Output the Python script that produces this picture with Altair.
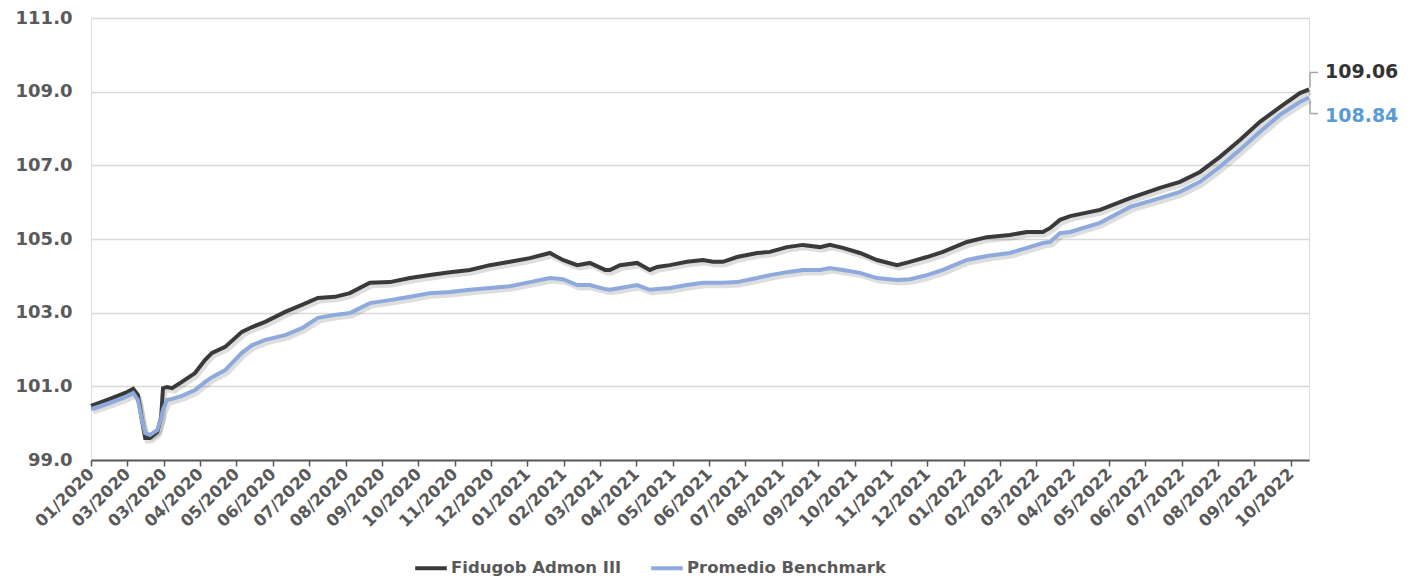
import altair as alt
import pandas as pd

LABELS = ["01/2020", "03/2020", "03/2020", "04/2020", "05/2020", "06/2020", "07/2020",
          "08/2020", "09/2020", "10/2020", "11/2020", "12/2020",
          "01/2021", "02/2021", "03/2021", "04/2021", "05/2021", "06/2021", "07/2021",
          "08/2021", "09/2021", "10/2021", "11/2021", "12/2021",
          "01/2022", "02/2022", "03/2022", "04/2022", "05/2022", "06/2022", "07/2022",
          "08/2022", "09/2022", "10/2022"]

# position along the axis, in label periods
T = [0, 0.52, 0.94, 1.16, 1.29, 1.40, 1.49, 1.62, 1.82, 1.93, 1.98, 2.09, 2.23, 2.50,
     2.86, 3.14, 3.33, 3.69, 4.15, 4.43, 4.79, 5.34, 5.80, 6.24, 6.71, 7.12, 7.67, 8.22,
     8.77, 9.32, 9.87, 10.42, 10.97, 11.52, 12.07, 12.62, 12.98, 13.37, 13.72, 14.14,
     14.27, 14.55, 15.02, 15.37, 15.57, 15.92, 16.39, 16.83, 17.11, 17.38, 17.77, 18.32,
     18.67, 19.14, 19.58, 20.05, 20.32, 20.68, 21.15, 21.62, 22.17, 22.52, 22.99, 23.43,
     24.09, 24.64, 25.27, 25.74, 26.18, 26.38, 26.65, 26.93, 27.75, 28.58, 29.40, 29.95,
     30.50, 31.05, 31.60, 32.15, 32.70, 33.25, 33.50]

FID = [100.47, 100.66, 100.82, 100.93, 100.76, 100.09, 99.60, 99.60, 99.76, 100.17,
       100.95, 100.98, 100.95, 101.12, 101.36, 101.72, 101.91, 102.07, 102.48, 102.61,
       102.75, 103.02, 103.21, 103.40, 103.43, 103.53, 103.81, 103.83, 103.94, 104.02,
       104.10, 104.16, 104.29, 104.38, 104.48, 104.62, 104.43, 104.29, 104.35, 104.16,
       104.16, 104.29, 104.35, 104.16, 104.24, 104.29, 104.38, 104.43, 104.38, 104.38,
       104.51, 104.62, 104.65, 104.78, 104.84, 104.78, 104.84, 104.76, 104.62, 104.43,
       104.29, 104.38, 104.51, 104.65, 104.92, 105.05, 105.11, 105.19, 105.19, 105.30,
       105.52, 105.62, 105.79, 106.11, 106.39, 106.55, 106.82, 107.23, 107.69, 108.18,
       108.58, 108.96, 109.06]

BEN = [100.38, 100.55, 100.71, 100.82, 100.63, 100.09, 99.73, 99.68, 99.81, 100.14,
       100.36, 100.63, 100.66, 100.74, 100.90, 101.12, 101.25, 101.44, 101.91, 102.12,
       102.26, 102.39, 102.58, 102.86, 102.94, 102.99, 103.26, 103.34, 103.43, 103.53,
       103.56, 103.62, 103.67, 103.72, 103.83, 103.94, 103.91, 103.75, 103.75, 103.64,
       103.62, 103.67, 103.75, 103.62, 103.64, 103.67, 103.75, 103.81, 103.81, 103.81,
       103.83, 103.94, 104.02, 104.10, 104.16, 104.16, 104.21, 104.16, 104.08, 103.94,
       103.89, 103.91, 104.02, 104.16, 104.43, 104.54, 104.62, 104.76, 104.89, 104.92,
       105.16, 105.19, 105.44, 105.87, 106.11, 106.28, 106.55, 106.96, 107.42, 107.91,
       108.37, 108.72, 108.84]

SERIES = ["Fidugob Admon III", "Promedio Benchmark"]
COLORS = ["#3a3a3a", "#8eaadc"]
LABEL_COLORS = ["#333333", "#5b9bd5"]
GRAY = "#595959"
FONT = "DejaVu Sans"

rows = []
for t, a, b in zip(T, FID, BEN):
    rows.append({"t": t, "v": a, "s": SERIES[0]})
    rows.append({"t": t, "v": b, "s": SERIES[1]})
df = pd.DataFrame(rows)

label_expr = "[" + ",".join(f"'{l}'" for l in LABELS) + "][datum.value]"

x = alt.X("t:Q", title=None,
          scale=alt.Scale(domain=[0, T[-1]], nice=False, zero=False),
          axis=alt.Axis(values=list(range(len(LABELS))), tickCount=60,
                        labelExpr=label_expr,
                        labelAngle=-45, labelAlign="right", labelBaseline="middle",
                        labelFont=FONT, labelFontSize=16.5, labelFontWeight="bold",
                        labelColor=GRAY, labelPadding=5, labelOverlap=False,
                        domainColor=GRAY, domainWidth=2, tickColor=GRAY,
                        tickWidth=1.5, tickSize=6, grid=False))
y = alt.Y("v:Q", title=None,
          scale=alt.Scale(domain=[99, 111], nice=False, zero=False),
          axis=alt.Axis(values=[99, 101, 103, 105, 107, 109, 111], format=".1f",
                        labelFont=FONT, labelFontSize=18, labelFontWeight="bold",
                        labelColor=GRAY, labelPadding=19, domain=False, ticks=False,
                        grid=True, gridColor="#d9d9d9", gridWidth=1.5))

base = alt.Chart(df)

shadow = base.mark_line(strokeWidth=5, color="#000000", opacity=0.13,
                        xOffset=2, yOffset=3).encode(x=x, y=y, detail="s:N")

lines = base.mark_line(strokeWidth=4).encode(
    x=x, y=y,
    color=alt.Color("s:N", scale=alt.Scale(domain=SERIES, range=COLORS),
                    legend=alt.Legend(title=None, orient="none", direction="horizontal",
                                      legendX=322, legendY=532,
                                      symbolType="stroke", symbolStrokeWidth=4,
                                      symbolSize=1000, labelFont=FONT, labelFontSize=16.5,
                                      labelFontWeight="bold", labelColor=GRAY,
                                      labelLimit=0, labelOffset=2, columnPadding=21)))

layers = [shadow, lines]
offs = [(-17, -2, -17), (18, 3, 16)]
for i, (vals, name) in enumerate(zip([FID, BEN], SERIES)):
    end = pd.DataFrame({"t": [T[-1]], "v": [vals[-1]], "label": [f"{vals[-1]:.2f}"]})
    dy, y0, y1 = offs[i]
    ec = alt.Chart(end)
    layers.append(ec.mark_rule(color="#a6a6a6", strokeWidth=1.5, xOffset=1,
                               yOffset=y0, y2Offset=y1).encode(
        x=alt.X("t:Q"), y=alt.Y("v:Q"), y2="v:Q"))
    layers.append(ec.mark_rule(color="#a6a6a6", strokeWidth=1.5, xOffset=1,
                               x2Offset=9, yOffset=y1).encode(
        x=alt.X("t:Q"), x2="t:Q", y=alt.Y("v:Q")))
    layers.append(ec.mark_text(align="left", baseline="middle", dx=16, dy=dy,
                               font=FONT, fontSize=19, fontWeight="bold",
                               color=LABEL_COLORS[i]).encode(
        x=alt.X("t:Q"), y=alt.Y("v:Q"), text="label:N"))

chart = alt.layer(*layers).properties(
    width=1218, height=442,
    autosize=alt.AutoSizeParams(type="none"),
    padding={"left": 83, "top": 10, "right": 100, "bottom": 119},
).configure_view(stroke=None).configure(font=FONT)

chart.save("out.html", embed_options={"renderer": "svg", "actions": False})
